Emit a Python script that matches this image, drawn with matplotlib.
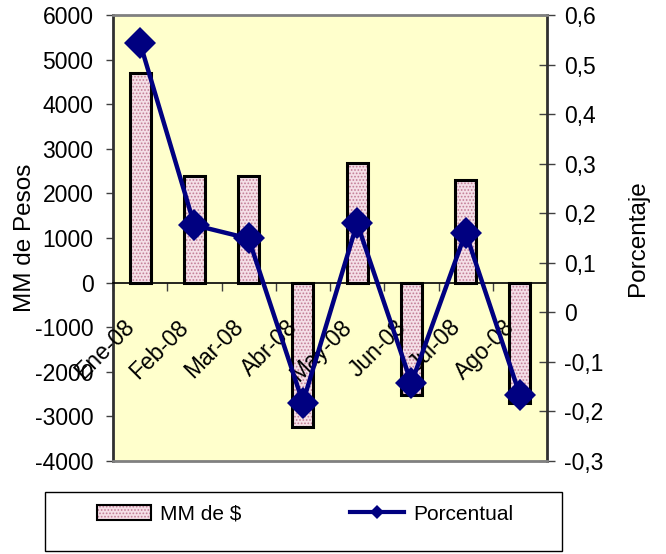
import numpy as np
import matplotlib
matplotlib.use("Agg")
import matplotlib.pyplot as plt
from matplotlib.patches import Patch, Rectangle
from matplotlib.lines import Line2D
from matplotlib.legend_handler import HandlerTuple
import matplotlib.transforms as mtransforms

plt.rcParams['font.family'] = ['Liberation Sans', 'DejaVu Sans']
plt.rcParams['hatch.linewidth'] = 0.8

categories = ["Ene-08", "Feb-08", "Mar-08", "Abr-08", "May-08", "Jun-08", "Jul-08", "Ago-08"]
mm_pesos = [4700, 2380, 2380, -3230, 2690, -2510, 2290, -2710]
porcentual = [0.543, 0.176, 0.149, -0.182, 0.180, -0.143, 0.161, -0.167]
left_ticks = [-4000, -3000, -2000, -1000, 0, 1000, 2000, 3000, 4000, 5000, 6000]
right_ticks = [-0.3, -0.2, -0.1, 0.0, 0.1, 0.2, 0.3, 0.4, 0.5, 0.6]
right_labels = ["-0,3", "-0,2", "-0,1", "0", "0,1", "0,2", "0,3", "0,4", "0,5", "0,6"]

W, H = 666, 554
fig = plt.figure(figsize=(W / 100, H / 100), dpi=100)
ax = fig.add_axes([113 / W, 1 - 461 / H, (547 - 113) / W, (461 - 15) / H])
ax.set_facecolor('#FFFFCC')
x = np.arange(len(categories))
bw = 0.39

# hatched fill
ax.bar(x, mm_pesos, width=bw, facecolor='#f4dfe7', edgecolor='#c27d96',
       hatch='.....', linewidth=0, zorder=2)
# outline
ax.bar(x, mm_pesos, width=bw, fill=False, edgecolor='black', linewidth=2.2, zorder=3)

ax.set_xlim(-0.5, len(categories) - 0.5)
ax.set_ylim(left_ticks[0], left_ticks[-1])
ax.set_yticks(left_ticks)
ax.set_yticklabels([str(v) for v in left_ticks])
ax.tick_params(axis='y', direction='out', length=5, width=1, color='#404040',
               labelsize=16.5, pad=9)

# category axis at zero
ax.spines['bottom'].set_position(('data', 0))
ax.spines['bottom'].set_color('black')
ax.spines['bottom'].set_linewidth(1.2)
ax.spines['bottom'].set_zorder(4)
ax.set_xticks(np.arange(len(categories) + 1) - 0.5)
ax.tick_params(axis='x', direction='out', length=6, width=1, color='#404040',
               labelbottom=False)
ax.spines['top'].set_visible(False)
ax.spines['right'].set_visible(False)
ax.spines['left'].set_color('#303030')
ax.spines['left'].set_linewidth(2)

offs = mtransforms.offset_copy(ax.transData, fig=fig, x=-9, y=-41, units='dots')
for i, c in enumerate(categories):
    ax.text(i, 0, c, transform=offs, rotation=45, rotation_mode='anchor',
            ha='right', va='center', fontsize=16.5, zorder=6)

ax2 = ax.twinx()
ax2.plot(x, porcentual, color='#000080', linewidth=3.2, marker='D', markersize=16,
         markeredgewidth=0, zorder=5, clip_on=False)
ax2.set_ylim(right_ticks[0], right_ticks[-1])
ax2.set_yticks(right_ticks)
ax2.set_yticklabels(right_labels)
ax2.tick_params(axis='y', direction='inout', length=11, width=1, color='#404040',
                labelsize=16.5, pad=7)
ax2.spines['left'].set_visible(False)
ax2.spines['right'].set_color('#303030')
ax2.spines['right'].set_linewidth(2)
for s in ('top', 'bottom'):
    ax2.spines[s].set_color('#808080')
    ax2.spines[s].set_linewidth(2)

fig.text(25 / W, 1 - 238 / H, "MM de Pesos", rotation=90, ha='center', va='center',
         fontsize=17.5)
fig.text(638 / W, 1 - 238 / H, "Porcentaje", rotation=90, ha='center', va='center',
         fontsize=17.5)

# legend
fig.add_artist(Rectangle((45 / W, 1 - 551 / H), (562 - 45) / W, (551 - 492) / H,
                         transform=fig.transFigure, facecolor='white',
                         edgecolor='black', linewidth=1))
h_fill = Patch(facecolor='#f4dfe7', edgecolor='#c27d96', hatch='.....', linewidth=0)
h_edge = Patch(fill=False, edgecolor='black', linewidth=1.5)
h_line = Line2D([], [], color='#000080', linewidth=3, marker='D', markersize=7,
                markeredgewidth=0)
fig.legend([(h_fill, h_edge), h_line], ["MM de $", "Porcentual"],
           handler_map={tuple: HandlerTuple(ndivide=1, pad=0)},
           loc='center', bbox_to_anchor=(305 / W, 1 - 514 / H), ncol=2,
           frameon=False, fontsize=15, handlelength=2.6, handletextpad=0.45,
           columnspacing=5.2, handleheight=0.75)

fig.savefig('out.png', dpi=100)
